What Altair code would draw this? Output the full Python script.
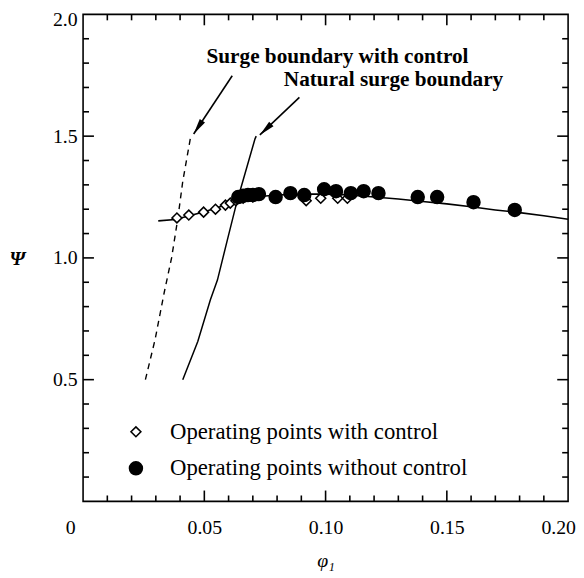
import math
import altair as alt
import pandas as pd

# ---------------- data ----------------
curve_phi = [0.031, 0.038, 0.045, 0.050, 0.055, 0.060, 0.065, 0.070, 0.080, 0.090,
             0.100, 0.110, 0.120, 0.130, 0.140, 0.150, 0.160, 0.170, 0.180, 0.190, 0.200]
curve_psi = [1.152, 1.158, 1.176, 1.190, 1.205, 1.222, 1.238, 1.250, 1.258, 1.262,
             1.262, 1.258, 1.250, 1.242, 1.232, 1.222, 1.210, 1.197, 1.186, 1.173, 1.159]

ctrl_bnd_phi = [0.0257, 0.0297, 0.0335, 0.0365, 0.0391, 0.0411, 0.0444]
ctrl_bnd_psi = [0.50, 0.665, 0.86, 1.00, 1.164, 1.314, 1.50]

nat_bnd_phi = [0.0411, 0.0473, 0.0525, 0.0554, 0.0594, 0.0635, 0.0709, 0.0714]
nat_bnd_psi = [0.50, 0.657, 0.828, 0.909, 1.07, 1.233, 1.489, 1.50]

with_ctrl_phi = [0.0387, 0.0436, 0.0497, 0.0546, 0.0587, 0.0607, 0.063, 0.066, 0.070,
                 0.092, 0.098, 0.105, 0.109]
with_ctrl_psi = [1.164, 1.176, 1.188, 1.200, 1.217, 1.225, 1.235, 1.245, 1.250,
                 1.235, 1.245, 1.245, 1.245]

no_ctrl_phi = [0.064, 0.066, 0.068, 0.070, 0.0725, 0.0794, 0.0855, 0.0912, 0.0994,
               0.1043, 0.1104, 0.1157, 0.1218, 0.138, 0.146, 0.161, 0.178]
no_ctrl_psi = [1.250, 1.255, 1.258, 1.258, 1.262, 1.250, 1.266, 1.258, 1.282,
               1.274, 1.266, 1.274, 1.266, 1.250, 1.250, 1.229, 1.197]

labels_series = ["Operating points with control", "Operating points without control"]

ann_text = ["Surge boundary with control", "Natural surge boundary"]
ann_phi = [0.0509, 0.0828]
ann_psi = [1.801, 1.706]

arrow_start_phi = [0.0615, 0.0892]
arrow_start_psi = [1.748, 1.659]
arrow_tip_phi = [0.0456, 0.0729]
arrow_tip_psi = [1.509, 1.505]

x_label_values = [0.0, 0.05, 0.10, 0.15, 0.20]
y_label_values = [0.5, 1.0, 1.5, 2.0]
x_major_ticks = [0.05, 0.10, 0.15]
x_minor_ticks = [round(0.01 * i, 2) for i in range(1, 20) if i % 5 != 0]
y_major_ticks = [0.5, 1.0, 1.5]
y_minor_ticks = [round(0.1 * i, 1) for i in range(1, 20) if i % 5 != 0]

# ---------------- layout ----------------
W, H = 491, 493
FONT = "Liberation Serif"
XMIN, XMAX, YMIN, YMAX = 0.0, 0.2, 0.0, 2.0
MAJ, MIN = 11, 6   # inward tick lengths in pixels

xs = alt.Scale(domain=[XMIN, XMAX], nice=False, zero=False)
ys = alt.Scale(domain=[YMIN, YMAX], nice=False, zero=False)

curve = pd.DataFrame({"phi": curve_phi, "psi": curve_psi})
ctrl_bnd = pd.DataFrame({"phi": ctrl_bnd_phi, "psi": ctrl_bnd_psi})
nat_bnd = pd.DataFrame({"phi": nat_bnd_phi, "psi": nat_bnd_psi})
pts = pd.DataFrame({
    "phi": with_ctrl_phi + no_ctrl_phi,
    "psi": with_ctrl_psi + no_ctrl_psi,
    "series": [labels_series[0]] * len(with_ctrl_phi) + [labels_series[1]] * len(no_ctrl_phi),
})
ann = pd.DataFrame({"phi": ann_phi, "psi": ann_psi, "text": ann_text})

sx, sy = W / (XMAX - XMIN), H / (YMAX - YMIN)
angles = []
for a, b, c, d in zip(arrow_start_phi, arrow_start_psi, arrow_tip_phi, arrow_tip_psi):
    dx = (c - a) * sx
    dy = -(d - b) * sy
    angles.append(math.degrees(math.atan2(dx, -dy)) % 360)
arrows = pd.DataFrame({"x1": arrow_start_phi, "y1": arrow_start_psi,
                       "x2": arrow_tip_phi, "y2": arrow_tip_psi, "angle": angles})


def x_tick_layers(vals, L):
    df = pd.DataFrame({"v": vals})
    bottom = alt.Chart(df).mark_tick(orient="vertical", size=L, thickness=1.6, color="black",
                                     opacity=1, yOffset=-L / 2).encode(
        x=alt.X("v:Q", scale=xs, axis=None), y=alt.datum(YMIN, scale=ys, axis=None))
    top = alt.Chart(df).mark_tick(orient="vertical", size=L, thickness=1.6, color="black",
                                  opacity=1, yOffset=L / 2).encode(
        x=alt.X("v:Q", scale=xs, axis=None), y=alt.datum(YMAX, scale=ys, axis=None))
    return [bottom, top]


def y_tick_layers(vals, L):
    df = pd.DataFrame({"v": vals})
    left = alt.Chart(df).mark_tick(orient="horizontal", size=L, thickness=1.6, color="black",
                                   opacity=1, xOffset=L / 2).encode(
        y=alt.Y("v:Q", scale=ys, axis=None), x=alt.datum(XMIN, scale=xs, axis=None))
    right = alt.Chart(df).mark_tick(orient="horizontal", size=L, thickness=1.6, color="black",
                                    opacity=1, xOffset=-L / 2).encode(
        y=alt.Y("v:Q", scale=ys, axis=None), x=alt.datum(XMAX, scale=xs, axis=None))
    return [left, right]


tick_layers = (x_tick_layers(x_major_ticks, MAJ) + x_tick_layers(x_minor_ticks, MIN)
               + y_tick_layers(y_major_ticks, MAJ) + y_tick_layers(y_minor_ticks, MIN))

ax_x_lab = alt.Axis(
    orient="bottom", values=x_label_values, ticks=False, domain=False, grid=False,
    labelExpr="datum.value == 0 ? '0' : format(datum.value, '.2f')",
    labelFont=FONT, labelFontSize=20, labelColor="black", labelPadding=16,
    labelFlush=False, labelOverlap=False, labelBound=False,
    labelOffset={"condition": [{"test": "datum.value == 0", "value": -13},
                               {"test": "datum.value > 0.199", "value": -10}], "value": 0},
    title="φ₁", titleFont=FONT, titleFontSize=20, titleFontStyle="italic",
    titleFontWeight="normal", titleColor="black", titleY=66, titleBaseline="alphabetic")

ax_y_lab = alt.Axis(
    orient="left", values=y_label_values, ticks=False, domain=False, grid=False,
    format=".1f", labelFont=FONT, labelFontSize=20, labelColor="black", labelPadding=6,
    labelFlush=False, labelOverlap=False,
    labelOffset={"condition": {"test": "datum.value > 1.99", "value": 5}, "value": 0},
    title="Ψ", titleFont=FONT, titleFontSize=20, titleFontStyle="italic",
    titleFontWeight="bold", titleColor="black", titleAngle=0, titleX=-67, titleY=247,
    titleAlign="center", titleBaseline="middle")

curve_layer = alt.Chart(curve).mark_line(color="black", strokeWidth=1.6).encode(
    x=alt.X("phi:Q", scale=xs, axis=ax_x_lab),
    y=alt.Y("psi:Q", scale=ys, axis=ax_y_lab),
)

ctrl_layer = alt.Chart(ctrl_bnd).mark_line(color="black", strokeWidth=1.4, strokeDash=[6, 5]).encode(
    x=alt.X("phi:Q", scale=xs, axis=None),
    y=alt.Y("psi:Q", scale=ys, axis=None),
)

nat_layer = alt.Chart(nat_bnd).mark_line(color="black", strokeWidth=1.5).encode(
    x=alt.X("phi:Q", scale=xs, axis=None),
    y=alt.Y("psi:Q", scale=ys, axis=None),
)

shaft_layer = alt.Chart(arrows).mark_rule(color="black", strokeWidth=1.6).encode(
    x=alt.X("x1:Q", scale=xs, axis=None), y=alt.Y("y1:Q", scale=ys, axis=None),
    x2="x2:Q", y2="y2:Q",
)

head_layer = alt.Chart(arrows).mark_point(
    shape="M0,0L-0.2,1L0.2,1Z", size=1024, filled=True, fill="black", strokeWidth=0, opacity=1
).encode(
    x=alt.X("x2:Q", scale=xs, axis=None), y=alt.Y("y2:Q", scale=ys, axis=None),
    angle=alt.Angle("angle:Q", scale=None),
)

leg = alt.Legend(orient="none", legendX=42, legendY=411, padding=0, rowPadding=13,
                 labelFont=FONT, labelFontSize=23, labelColor="black", labelOffset=23,
                 symbolStrokeWidth=1.6, symbolOpacity=1,
                 title=None, labelLimit=400)

pts_layer = alt.Chart(pts).mark_point(filled=True, strokeWidth=1.6, opacity=1).encode(
    x=alt.X("phi:Q", scale=xs, axis=None),
    y=alt.Y("psi:Q", scale=ys, axis=None),
    fill=alt.Fill("series:N", scale=alt.Scale(domain=labels_series, range=["white", "black"]), legend=leg),
    stroke=alt.Stroke("series:N", scale=alt.Scale(domain=labels_series, range=["black", "black"]), legend=leg),
    shape=alt.Shape("series:N", scale=alt.Scale(domain=labels_series, range=["diamond", "circle"]), legend=leg),
    size=alt.Size("series:N", scale=alt.Scale(domain=labels_series, range=[100, 170]), legend=leg),
)

text_layer = alt.Chart(ann).mark_text(
    align="left", baseline="alphabetic", font=FONT, fontSize=21.5, fontWeight="bold", color="black"
).encode(
    x=alt.X("phi:Q", scale=xs, axis=None), y=alt.Y("psi:Q", scale=ys, axis=None), text="text:N",
)

chart = alt.layer(
    curve_layer, ctrl_layer, nat_layer, shaft_layer, head_layer, pts_layer, text_layer,
    *tick_layers
).resolve_axis(x="independent", y="independent").properties(
    width=W, height=H,
    autosize=alt.AutoSizeParams(type="none"),
    padding={"left": 76, "top": 3, "right": 8, "bottom": 70},
    background="white",
).configure_view(stroke="black", strokeWidth=1.6)

chart.save("out.html", embed_options={"renderer": "svg", "actions": False})
